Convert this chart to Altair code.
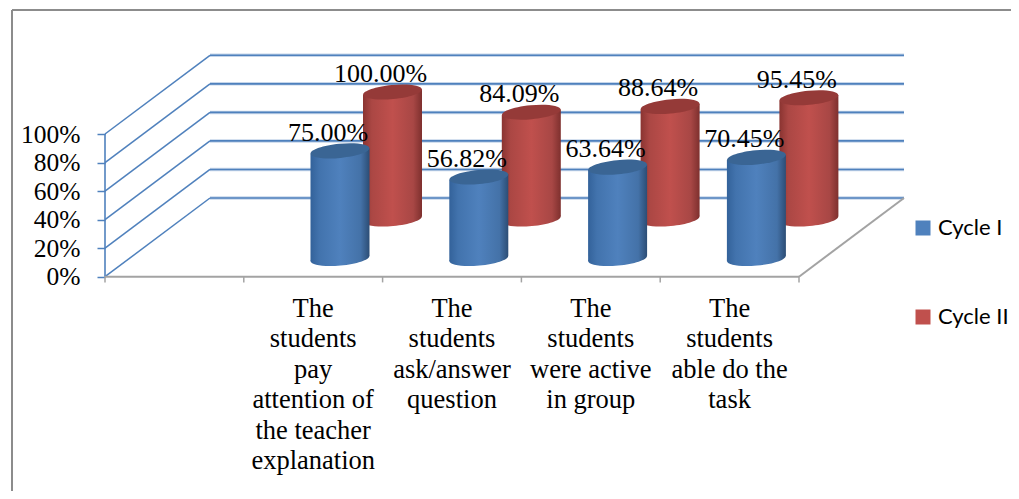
import altair as alt
import pandas as pd

categories = ["The\nstudents\npay\nattention of\nthe teacher\nexplanation",
              "The\nstudents\nask/answer\nquestion",
              "The\nstudents\nwere active\nin group",
              "The\nstudents\nable do the\ntask"]
cycle1 = [75.00, 56.82, 63.64, 70.45]
cycle2 = [100.00, 84.09, 88.64, 95.45]
series = ["Cycle I", "Cycle II"]
y_ticks = [0, 20, 40, 60, 80, 100]

W, H = 1003, 483
X0, CAT = 105.0, 138.8
DEPTH_X = 105.0 / CAT
HALF = 29.5 / CAT
BLUE = "#4f81bd"
RED = "#c0504d"
GRAY = "#a3a3a3"
SERIF = "Liberation Serif"


def yscale(base, per):
    return alt.Scale(domain=[(base - (8 + H)) / per, (base - 8) / per], nice=False, zero=False)


xs = alt.Scale(domain=[(8 - X0) / CAT, (8 + W - X0) / CAT], nice=False, zero=False)
GRID_PER = 1.427
ys_grid = yscale(276.7, GRID_PER)
DEPTH_Y = 78.7 / GRID_PER


def grad(stops):
    return alt.Gradient(gradient="linear", x1=0, x2=1, y1=0, y2=0,
                        stops=[alt.GradientStop(offset=o, color=c) for o, c in stops])


blue_grad = grad([(0, "#33629a"), (0.15, "#4273ad"), (0.5, "#4f81bd"), (0.85, "#4472a8"), (1, "#2c4d75")])
red_grad = grad([(0, "#8a3431"), (0.15, "#ab4744"), (0.5, "#c0504d"), (0.85, "#a84745"), (1, "#7e302e")])


def rules(df, color, width):
    return alt.Chart(df).mark_rule(color=color, strokeWidth=width).encode(
        x=alt.X("x:Q", scale=xs, axis=None),
        x2="x2:Q",
        y=alt.Y("y:Q", scale=ys_grid, axis=None),
        y2="y2:Q",
    )


side = pd.DataFrame([{"x": 0, "x2": DEPTH_X, "y": v, "y2": v + DEPTH_Y} for v in y_ticks])
back = pd.DataFrame([{"x": DEPTH_X, "x2": 5 + DEPTH_X, "y": v + DEPTH_Y, "y2": v + DEPTH_Y} for v in y_ticks])
vert = pd.DataFrame([{"x": 0, "x2": 0, "y": 0, "y2": 100}])
floor = pd.DataFrame([{"x": 0, "x2": 5, "y": 0, "y2": 0},
                      {"x": 5, "x2": 5 + DEPTH_X, "y": 0, "y2": DEPTH_Y}])
cat_ticks = pd.DataFrame([{"x": i, "x2": i, "y": 0, "y2": -4} for i in range(6)])

value_axis = alt.Chart(pd.DataFrame({"v": y_ticks})).mark_rule(opacity=0).encode(
    y=alt.Y("v:Q", scale=ys_grid, axis=alt.Axis(
        values=y_ticks, labelExpr="datum.value + '%'", offset=-97, domain=False, grid=False,
        title=None, tickColor=BLUE, tickSize=8, tickWidth=1.5, labelFont=SERIF, labelFontSize=25.5,
        labelColor="#000000", labelPadding=17, labelFlush=False, labelOverlap=False)),
)

frame_top = alt.Chart(pd.DataFrame({"a": [0]})).mark_rule(color="#8c8c8c", strokeWidth=2).encode(
    x=alt.value(4), x2=alt.value(W), y=alt.value(2), y2=alt.value(2))
frame_left = alt.Chart(pd.DataFrame({"a": [0]})).mark_rule(color="#8c8c8c", strokeWidth=2).encode(
    x=alt.value(4), x2=alt.value(4), y=alt.value(2), y2=alt.value(H))

ELLIPSE = "M-1,0A1,0.24,0,1,1,1,0A1,0.24,0,1,1,-1,0Z"


def cylinders(values, offset, base, per, body, top):
    sc = yscale(base, per)
    tilt = 2.7 / per
    centers = [i + 1.5 + offset / CAT for i in range(len(values))]
    pts = pd.DataFrame({"x": centers, "v": values, "z": [0.0] * len(values)})
    rows = []
    for i, (c, v) in enumerate(zip(centers, values)):
        rows.append({"id": i, "x": c - HALF, "y": v - tilt, "y2": -tilt})
        rows.append({"id": i, "x": c + HALF, "y": v + tilt, "y2": tilt})
    area = pd.DataFrame(rows)
    bottom = alt.Chart(pts).mark_point(shape=ELLIPSE, filled=True, size=59 ** 2, angle=354.6,
                                       color=body, opacity=1, strokeWidth=0).encode(
        x=alt.X("x:Q", scale=xs, axis=None), y=alt.Y("z:Q", scale=sc, axis=None))
    side_ = alt.Chart(area).mark_area(color=body, opacity=1).encode(
        x=alt.X("x:Q", scale=xs, axis=None), y=alt.Y("y:Q", scale=sc, axis=None), y2="y2:Q", detail="id:N")
    cap = alt.Chart(pts).mark_point(shape=ELLIPSE, filled=True, size=59 ** 2, angle=354.6,
                                    color=top, opacity=1, strokeWidth=0).encode(
        x=alt.X("x:Q", scale=xs, axis=None), y=alt.Y("v:Q", scale=sc, axis=None))
    return [bottom, side_, cap]


def labels(values, offset, base, per):
    sc = yscale(base, per)
    df = pd.DataFrame({"x": [i + 1.5 + offset / CAT for i in range(len(values))], "v": values,
                       "t": [f"{v:.2f}%" for v in values]})
    return alt.Chart(df).mark_text(font=SERIF, fontSize=26, color="#000000", align="center",
                                   baseline="alphabetic", dx=-12, dy=-10).encode(
        x=alt.X("x:Q", scale=xs, axis=None),
        y=alt.Y("v:Q", scale=sc, axis=None),
        text="t:N",
    )


cat_df = pd.DataFrame({"x": [i + 1.5 for i in range(4)], "t": categories})
cat_labels = alt.Chart(cat_df).mark_text(font=SERIF, fontSize=26.5, color="#000000", align="center",
                                         baseline="alphabetic", lineBreak="\n", lineHeight=30.4).encode(
    x=alt.X("x:Q", scale=xs, axis=None), y=alt.value(309), text="t:N")

legend_df = pd.DataFrame({"s": series, "x": [0, 0], "v": [0, 0]})
legend_layer = alt.Chart(legend_df).mark_point(filled=True, size=0, shape="square", opacity=1).encode(
    x=alt.X("x:Q", scale=xs, axis=None),
    y=alt.Y("v:Q", scale=ys_grid, axis=None),
    color=alt.Color("s:N", scale=alt.Scale(domain=series, range=[BLUE, RED]), legend=alt.Legend(
        orient="none", legendX=904, legendY=209, title=None, symbolType="square", symbolSize=225,
        symbolStrokeWidth=0, symbolOpacity=1, labelFont="Lato", labelFontSize=22, labelColor="#000000",
        rowPadding=67, labelOffset=4, padding=0, labelLimit=200)),
)

layers = [frame_top, frame_left,
          rules(back, "#c6d6ea", 3.5), rules(back, BLUE, 1.6), rules(side, BLUE, 1.5), rules(vert, BLUE, 1.6),
          rules(floor, GRAY, 2), rules(cat_ticks, GRAY, 1.5), value_axis, legend_layer]
layers += cylinders(cycle2, 79.3, 219, 1.27, red_grad, "#953a38")
layers += cylinders(cycle1, 26.8, 258.5, 1.435, blue_grad, "#3a6594")
layers += [labels(cycle2, 79.3, 219, 1.27), labels(cycle1, 26.8, 258.5, 1.435), cat_labels]

chart = alt.layer(*layers).resolve_scale(y="independent").properties(
    width=W, height=H, padding=0, autosize="none", background="#ffffff"
).configure_view(stroke=None)

chart.save("out.html", embed_options={"renderer": "svg", "actions": False})
